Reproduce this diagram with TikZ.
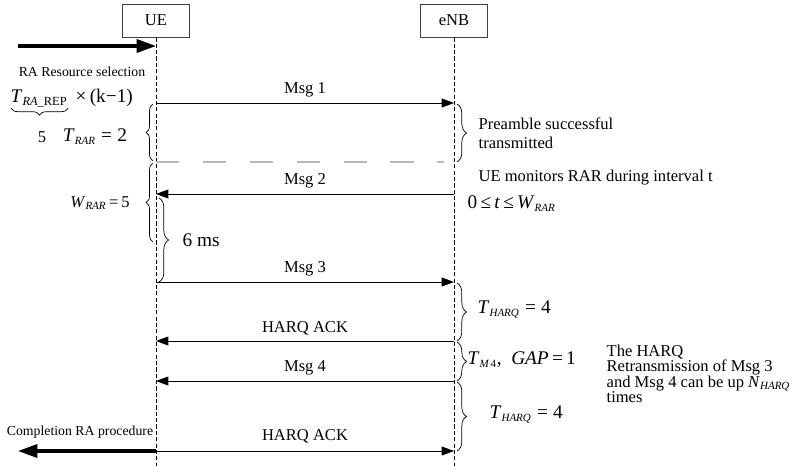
\documentclass[tikz,border=0pt]{standalone}
\usepackage{fontspec}
\setmainfont{Liberation Serif}
\usetikzlibrary{arrows.meta, calc, decorations.pathreplacing}
\tikzstyle{entity}   = [rectangle, draw=black!75, line width=0.6pt, minimum width=48pt,
                         minimum height=24pt, font=\fontsize{12}{14}\selectfont]
\tikzstyle{lifeline} = [dash pattern=on 3pt off 1.6pt, line width=0.5pt]
\tikzstyle{msg}      = [-{Triangle[length=9pt,width=6.5pt]}, line width=0.7pt]
\tikzstyle{bigarrow} = [-{Triangle[length=14pt,width=9.5pt]}, line width=2.2pt]
\tikzstyle{guard}    = [gray!55, line width=1.4pt, dash pattern=on 17pt off 17pt]
\tikzstyle{brc}      = [decorate, decoration={brace, amplitude=5pt}, line width=0.5pt]
\tikzstyle{wbrc}     = [decorate, decoration={brace, amplitude=7pt}, line width=0.5pt]
\tikzstyle{lbl}      = [font=\fontsize{12}{14}\selectfont, inner sep=1pt]
\tikzstyle{eq}       = [font=\fontsize{14}{16}\selectfont, inner sep=1pt]
\tikzstyle{small}    = [font=\fontsize{10}{12}\selectfont, inner sep=1pt]
\newcommand{\vsub}[2]{\textit{#1}\textsubscript{\fontsize{8}{9}\selectfont\textit{#2}}}
\newcommand{\tightlines}{\fontsize{12}{11.2}\selectfont\lineskiplimit=-10pt\relax}

\begin{document}
\begin{tikzpicture}[x=0.725pt, y=-0.725pt]
  \useasboundingbox (0,0) rectangle (799,466);

  % Entities and lifelines
  \node[entity] (ue)  at (156,20.5) {UE};
  \node[entity] (enb) at (454,20.5) {eNB};
  \coordinate (bot) at (0,466);
  \draw[lifeline] (ue.south)  -- (ue.south |- bot);
  \draw[lifeline] (enb.south) -- (enb.south |- bot);

  % Rows
  \coordinate (start) at (18,46);
  \coordinate (m1)    at (0,103);
  \coordinate (gp)    at (0,162);
  \coordinate (m2)    at (0,194);
  \coordinate (m3)    at (0,282);
  \coordinate (ack1)  at (0,341);
  \coordinate (m4)    at (0,381);
  \coordinate (ack2)  at (0,451);
  \coordinate (done)  at (18,451);

  % Start of the procedure
  \draw[bigarrow] (start) -- (ue |- start);
  \node[small] (sel) at (82,72) {RA Resource selection};
  \node[eq, anchor=base west] (trep) at (9,103)
    {\textit{T}\textsubscript{\fontsize{9}{10}\selectfont\textit{RA}\_REP}};
  \node[eq, anchor=base west] (km1) at ($(trep.base east)+(5,0)$) {×\,(k−1)};
  \draw[brc] ($(trep.south east)+(-1,-1)$) -- ($(trep.south west)+(2,-1)$);
  \node[lbl] (five) at (42,137) {5};
  \node[eq] (trar) at (95,137) {\vsub{T}{RAR}\;=\;2};

  % Msg 1 and RAR window
  \draw[msg] (ue |- m1) -- node[lbl, above=3pt] (l1) {Msg 1} (enb |- m1);
  \draw[brc] ($(ue |- gp)+(-3,-1)$) -- ($(ue |- m1)+(-3,1)$);
  \draw[wbrc] ($(enb |- m1)+(3,1)$) -- ($(enb |- gp)+(3,0)$);
  \node[lbl, anchor=west, align=left] (pre) at (477,133) {Preamble successful\\transmitted};
  \draw[guard] (ue |- gp) -- ($(enb |- gp)+(-10,0)$);

  % Msg 2
  \draw[brc] ($(ue |- m3)+(-3,-40)$) -- ($(ue |- gp)+(-3,1)$);
  \node[lbl] (wrar) at (100,203) {\vsub{W}{RAR}\,=\,5};
  \draw[msg] (enb |- m2) -- node[lbl, above=3pt] (l2) {Msg 2} (ue |- m2);
  \node[lbl, anchor=west] (mon) at (477,178) {UE monitors RAR during interval t};
  \node[eq, anchor=west] (win) at (466,204) {0\,≤\,\textit{t}\,≤\,\vsub{W}{RAR}};
  \draw[wbrc] ($(ue |- m2)+(3,4)$) -- ($(ue |- m3)+(3,0)$);
  \node[eq, anchor=west] (six) at (181,240) {6 ms};

  % Msg 3, Msg 4 and HARQ
  \draw[msg] (ue |- m3) -- node[lbl, above=3pt] (l3) {Msg 3} (enb |- m3);
  \draw[wbrc] ($(enb |- m3)+(3,1)$) -- ($(enb |- ack1)+(3,0)$);
  \node[eq, anchor=west] (th1) at (476,310) {\vsub{T}{HARQ}\;=\;4};
  \draw[msg] (enb |- ack1) -- node[lbl, above=3pt] (l4) {HARQ ACK} (ue |- ack1);
  \draw[wbrc] ($(enb |- ack1)+(3,1)$) -- ($(enb |- m4)+(3,0)$);
  \node[eq, anchor=west] (gap) at (466,360) {\vsub{T}{M\,\upshape4},\enspace\textit{GAP}\,=\,1};
  \draw[msg] (enb |- m4) -- node[lbl, above=3pt] (l5) {Msg 4} (ue |- m4);
  \draw[wbrc] ($(enb |- m4)+(3,1)$) -- ($(enb |- ack2)+(3,0)$);
  \node[eq, anchor=west] (th2) at (488,415) {\vsub{T}{HARQ}\;=\;4};
  \draw[msg] (ue |- ack2) -- node[lbl, above=4pt] (l6) {HARQ ACK} (enb |- ack2);
  \node[anchor=north west, align=left, inner sep=1pt, font=\tightlines] (retx) at (605,343)
    {The HARQ\\Retransmission of Msg 3\\and Msg 4 can be up \vsub{N}{HARQ}\\times};

  % Completion
  \draw[bigarrow] (ue |- done) -- (done);
  \node[small] (comp) at (80,432) {Completion RA procedure};
\end{tikzpicture}
\end{document}
